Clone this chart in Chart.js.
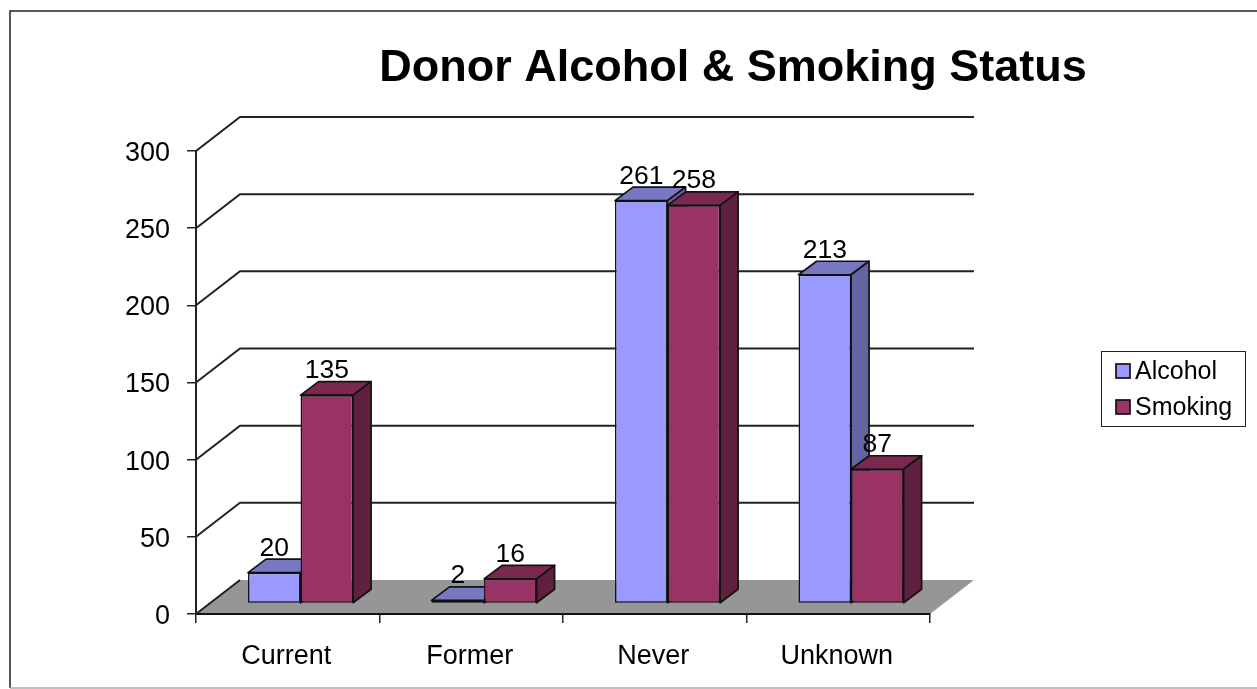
<!DOCTYPE html>
<html>
<head>
<meta charset="utf-8">
<title>Donor Alcohol & Smoking Status</title>
<script src="https://cdn.jsdelivr.net/npm/chart.js@4/dist/chart.umd.min.js"></script>
<style>
  html, body { margin: 0; padding: 0; background: #fff; }
  #wrap { width: 1257px; height: 689px; }
</style>
</head>
<body>
<div id="wrap"><canvas id="myChart"></canvas></div>
<script>
const categories = ['Current', 'Former', 'Never', 'Unknown'];
const alcohol = [20, 2, 261, 213];
const smoking = [135, 16, 258, 87];

const FONT = '"Liberation Sans", Arial, sans-serif';

// fake 3D: how far the walls and the bars are pushed back
const wallDepth = { x: 44, y: -34 };
const barShift = { x: 12.8, y: -10.5 };
const barDepth = { x: 18, y: -13.5 };

const shades = [
    { front: '#9999ff', top: '#7777c2', side: '#6464a2' },
    { front: '#993366', top: '#7a2850', side: '#602040' }
];

function poly(ctx, pts, fill, stroke) {
    ctx.beginPath();
    pts.forEach((p, i) => i ? ctx.lineTo(p[0], p[1]) : ctx.moveTo(p[0], p[1]));
    ctx.closePath();
    ctx.fillStyle = fill;
    ctx.fill();
    if (stroke) {
        ctx.lineWidth = 1.7;
        ctx.strokeStyle = stroke;
        ctx.lineJoin = 'round';
        ctx.stroke();
    }
}

const frame3d = {
    id: 'frame3d',
    beforeDraw(chart) {
        const ctx = chart.ctx;
        const { left, right, bottom } = chart.chartArea;
        const d = wallDepth;

        ctx.save();
        // picture frame
        ctx.strokeStyle = '#222';
        ctx.lineWidth = 1.5;
        ctx.beginPath();
        ctx.moveTo(1257, 11);
        ctx.lineTo(10, 11);
        ctx.lineTo(10, 688);
        ctx.stroke();
        ctx.strokeStyle = '#aaa';
        ctx.beginPath();
        ctx.moveTo(10, 688);
        ctx.lineTo(1257, 688);
        ctx.stroke();

        // floor
        poly(ctx, [[left, bottom], [right, bottom], [right + d.x, bottom + d.y], [left + d.x, bottom + d.y]], '#969696');

        // wall lines
        ctx.strokeStyle = '#222';
        ctx.lineWidth = 2;
        chart.scales.y.ticks.forEach(t => {
            if (t.value === 0) return;
            const y = chart.scales.y.getPixelForValue(t.value);
            ctx.beginPath();
            ctx.moveTo(left, y);
            ctx.lineTo(left + d.x, y + d.y);
            ctx.lineTo(right + d.x, y + d.y);
            ctx.stroke();
        });
        ctx.beginPath();
        ctx.moveTo(left, bottom);
        ctx.lineTo(left + d.x, bottom + d.y);
        ctx.stroke();
        ctx.restore();
    },
    beforeDatasetsDraw(chart) {
        const ctx = chart.ctx;
        ctx.save();
        ctx.translate(barShift.x, barShift.y);
        // tops and sides first, the library then paints the front faces on them
        chart.data.datasets.forEach((ds, i) => {
            chart.getDatasetMeta(i).data.forEach(bar => {
                const l = bar.x - bar.width / 2, r = bar.x + bar.width / 2;
                const dx = barDepth.x, dy = barDepth.y;
                poly(ctx, [[l, bar.y], [r, bar.y], [r + dx, bar.y + dy], [l + dx, bar.y + dy]], shades[i].top, '#111');
                poly(ctx, [[r, bar.y], [r + dx, bar.y + dy], [r + dx, bar.base + dy], [r, bar.base]], shades[i].side, '#111');
            });
        });
    },
    afterDatasetsDraw(chart) {
        const ctx = chart.ctx;
        ctx.restore();

        // value labels
        ctx.save();
        ctx.font = '26.5px ' + FONT;
        ctx.fillStyle = '#000';
        ctx.textAlign = 'center';
        ctx.textBaseline = 'alphabetic';
        chart.data.datasets.forEach((ds, i) => {
            chart.getDatasetMeta(i).data.forEach((bar, j) => {
                ctx.fillText(ds.data[j], bar.x + barShift.x, bar.y + barShift.y - 17);
            });
        });
        ctx.restore();
    },
    afterLayout(chart) {
        // title sits off centre, over the bars and legend together
        chart.titleBlock.left = 209;
        chart.titleBlock.right = 1257;
    },
    afterDraw(chart) {
        const ctx = chart.ctx;
        ctx.save();
        ctx.lineWidth = 1;
        ctx.strokeStyle = '#222';
        ctx.fillStyle = '#fff';
        ctx.fillRect(1101.5, 351.5, 144, 75);
        ctx.strokeRect(1101.5, 351.5, 144, 75);
        ctx.font = '25px ' + FONT;
        ctx.textBaseline = 'middle';
        chart.data.datasets.forEach((ds, i) => {
            const y = 371 + i * 36;
            ctx.fillStyle = ds.backgroundColor;
            ctx.fillRect(1116, y - 7, 14, 14);
            ctx.lineWidth = 1.7;
            ctx.strokeStyle = '#111';
            ctx.strokeRect(1116, y - 7, 14, 14);
            ctx.fillStyle = '#000';
            ctx.fillText(ds.label, 1135, y + 1.5);
        });
        ctx.restore();
    }
};

new Chart(document.getElementById('myChart'), {
    type: 'bar',
    data: {
        labels: categories,
        datasets: [
            { label: 'Alcohol', data: alcohol, backgroundColor: shades[0].front, borderColor: '#111', borderWidth: 1.5, borderSkipped: false, clip: false },
            { label: 'Smoking', data: smoking, backgroundColor: shades[1].front, borderColor: '#111', borderWidth: 1.5, borderSkipped: false, clip: false }
        ]
    },
    options: {
        animation: false,
        responsive: true,
        maintainAspectRatio: false,
        layout: { padding: { left: 0, right: 327, top: 0, bottom: 0 } },
        categoryPercentage: 0.5725,
        barPercentage: 1,
        scales: {
            x: {
                afterFit: s => { s.height = 75; },
                grid: { drawOnChartArea: false, tickLength: 9, color: '#222', lineWidth: 1.5 },
                border: { color: '#111', width: 2 },
                ticks: { color: '#000', padding: 17, labelOffset: -1.5, maxRotation: 0, font: { family: FONT, size: 27 } }
            },
            y: {
                min: 0,
                max: 300,
                afterFit: s => { s.width = 196; },
                grid: { drawOnChartArea: false, tickLength: 9, color: '#222', lineWidth: 1.5 },
                border: { color: '#222', width: 2 },
                ticks: { stepSize: 50, color: '#000', padding: 17, labelOffset: 2.5, font: { family: FONT, size: 27 } }
            }
        },
        plugins: {
            legend: { display: false },
            tooltip: { enabled: false },
            title: {
                display: true,
                text: 'Donor Alcohol & Smoking Status',
                color: '#000',
                padding: { top: 46, bottom: 60 },
                font: { family: FONT, size: 45, weight: 'bold', lineHeight: 1 }
            }
        }
    },
    plugins: [frame3d]
});
</script>
</body>
</html>
